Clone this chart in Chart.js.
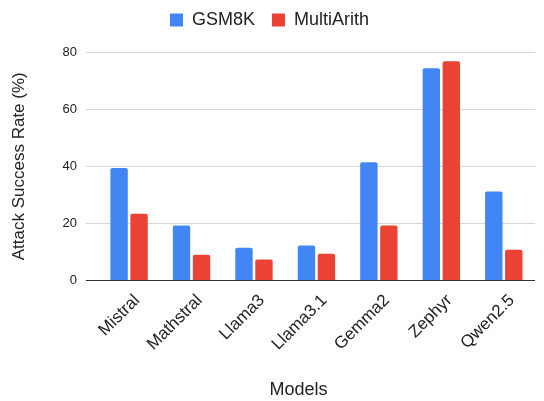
<!DOCTYPE html>
<html lang="en">
<head>
    <meta charset="UTF-8">
    <title>Attack Success Rate by Model</title>
    <script src="https://cdn.jsdelivr.net/npm/chart.js"></script>
    <style>
        body { margin: 0; background: #fff; }
        .chart-container { width: 544px; height: 401px; }
    </style>
</head>
<body>
    <div class="chart-container">
        <canvas id="asrChart" width="544" height="401"></canvas>
    </div>

    <script>
        // values
        const models = ['Mistral', 'Mathstral', 'Llama3', 'Llama3.1', 'Gemma2', 'Zephyr', 'Qwen2.5'];
        const gsm8k = [39.4, 19.3, 11.5, 12.3, 41.4, 74.3, 31.2];
        const multiArith = [23.4, 9.0, 7.4, 9.4, 19.3, 76.8, 10.8];
        const yTicks = [0, 20, 40, 60, 80];

        Chart.defaults.font.family = '"Liberation Sans", Arial, sans-serif';
        Chart.defaults.color = '#222';

        // extra space between legend and plot
        const legendGap = {
            id: 'legendGap',
            beforeInit(chart) {
                const fit = chart.legend.fit;
                chart.legend.fit = function () {
                    fit.bind(chart.legend)();
                    this.height += 13;
                };
            }
        };

        // the reference centres "Models" a bit left of the plot centre
        const shiftXTitle = {
            id: 'shiftXTitle',
            afterLayout(chart) {
                const x = chart.scales.x;
                if (x._shifted) return;
                const orig = x.drawTitle;
                x.drawTitle = function () {
                    const c = this.ctx;
                    c.save();
                    c.translate(-18, 0);
                    orig.call(this);
                    c.restore();
                };
                x._shifted = true;
            }
        };

        const ctx = document.getElementById('asrChart').getContext('2d');
        new Chart(ctx, {
            type: 'bar',
            data: {
                labels: models,
                datasets: [
                    { label: 'GSM8K', data: gsm8k, backgroundColor: '#4285F4', borderRadius: 2 },
                    { label: 'MultiArith', data: multiArith, backgroundColor: '#EA4335', borderRadius: 2 }
                ]
            },
            options: {
                responsive: false,
                animation: false,
                datasets: { bar: { categoryPercentage: 0.64, barPercentage: 0.87 } },
                layout: { padding: { left: 4, right: 9, top: -6, bottom: 0 } },
                plugins: {
                    legend: {
                        position: 'top',
                        labels: { boxWidth: 13, boxHeight: 13, font: { size: 18 }, padding: 17, color: '#222' }
                    },
                    tooltip: { enabled: false }
                },
                scales: {
                    x: {
                        grid: { display: false },
                        border: { display: false },
                        ticks: { minRotation: 45, maxRotation: 45, font: { size: 17 }, color: '#222', padding: 2, labelOffset: 8 },
                        title: { display: true, text: 'Models', font: { size: 18 }, color: '#222', padding: { top: 23, bottom: 0 } }
                    },
                    y: {
                        min: 0,
                        max: 80,
                        afterBuildTicks: axis => { axis.ticks = yTicks.map(v => ({ value: v })); },
                        grid: {
                            color: c => (c.tick && c.tick.value === 0 ? '#333' : '#d6d6d6'),
                            drawTicks: true,
                            tickLength: 12
                        },
                        border: { display: false },
                        ticks: { font: { size: 13 }, color: '#222', padding: 9 },
                        title: { display: true, text: 'Attack Success Rate (%)', font: { size: 17 }, color: '#222', padding: { top: 5, bottom: 24 } }
                    }
                }
            },
            plugins: [legendGap, shiftXTitle]
        });
    </script>
</body>
</html>
